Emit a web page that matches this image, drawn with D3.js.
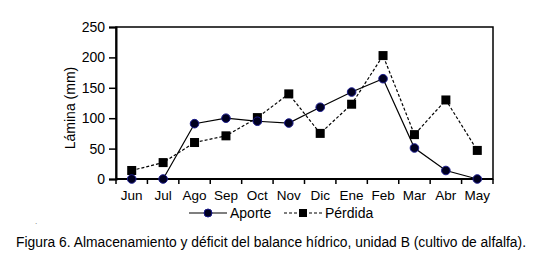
<!DOCTYPE html>
<html>
<head>
<meta charset="utf-8">
<script src="https://cdn.jsdelivr.net/npm/d3@7"></script>
<style>
  body { margin: 0; background: #fff; }
  svg { font-family: "Liberation Sans", Arial, sans-serif; }
</style>
</head>
<body>
<div id="wrapper"></div>
<script>
// months on the x axis
const months = ["Jun", "Jul", "Ago", "Sep", "Oct", "Nov", "Dic", "Ene", "Feb", "Mar", "Abr", "May"]
// series values (mm)
const aporte = [0, 0, 91, 100, 95, 92, 118, 143, 165, 51, 14, 0]
const perdida = [14, 27, 60, 71, 101, 140, 75, 123, 203, 73, 130, 47]
const yTicks = [0, 50, 100, 150, 200, 250]

const dimensions = {
  width: 551,
  height: 263,
  margin: { top: 27, right: 58, bottom: 84, left: 116 }
}
dimensions.boundedWidth = dimensions.width - dimensions.margin.left - dimensions.margin.right
dimensions.boundedHeight = dimensions.height - dimensions.margin.top - dimensions.margin.bottom

const wrapper = d3.select("#wrapper")
  .append("svg")
    .attr("width", dimensions.width)
    .attr("height", dimensions.height)

const bounds = wrapper.append("g")
  .attr("transform", `translate(${dimensions.margin.left},${dimensions.margin.top})`)

const xScale = d3.scaleBand()
  .domain(months)
  .range([0, dimensions.boundedWidth])

const yScale = d3.scaleLinear()
  .domain([0, 250])
  .range([dimensions.boundedHeight, 0])

const xMid = d => xScale(d) + xScale.bandwidth() / 2

// frame
bounds.append("rect")
  .attr("width", dimensions.boundedWidth)
  .attr("height", dimensions.boundedHeight)
  .attr("fill", "none")
  .attr("stroke", "#000")
  .attr("stroke-width", 1.5)

// y axis
const yAxis = bounds.append("g")
  .call(d3.axisLeft(yScale).tickValues(yTicks).tickSize(7).tickPadding(4))
yAxis.select(".domain").attr("stroke-width", 2)
yAxis.selectAll("line").attr("stroke-width", 1.5)
yAxis.selectAll("text").style("font-size", "14px").attr("fill", "#000")

// x axis: ticks on band edges
const xAxis = bounds.append("g")
  .attr("transform", `translate(0,${dimensions.boundedHeight})`)
xAxis.append("line")
  .attr("x1", 0).attr("x2", dimensions.boundedWidth)
  .attr("stroke", "#000").attr("stroke-width", 2)
xAxis.selectAll(".tk")
  .data(months.concat(["end"]))
  .join("line")
    .attr("class", "tk")
    .attr("x1", (d, i) => i < months.length ? xScale(d) : dimensions.boundedWidth)
    .attr("x2", (d, i) => i < months.length ? xScale(d) : dimensions.boundedWidth)
    .attr("y1", 0).attr("y2", 5)
    .attr("stroke", "#000").attr("stroke-width", 1.5)
xAxis.selectAll(".lbl")
  .data(months)
  .join("text")
    .attr("class", "lbl")
    .attr("x", xMid)
    .attr("y", 21)
    .attr("text-anchor", "middle")
    .style("font-size", "13.5px")
    .text(d => d)

// y label
bounds.append("text")
  .attr("transform", `translate(-41,${dimensions.boundedHeight / 2 + 5}) rotate(-90)`)
  .attr("text-anchor", "middle")
  .style("font-size", "14px")
  .text("Lámina (mm)")

const lineGen = d3.line()
  .x((d, i) => xMid(months[i]))
  .y(d => yScale(d))

// Pérdida (dashed, squares)
bounds.append("path")
  .datum(perdida)
  .attr("d", lineGen)
  .attr("fill", "none")
  .attr("stroke", "#000")
  .attr("stroke-width", 1.2)
  .attr("stroke-dasharray", "3 2")

// Aporte (solid, circles)
bounds.append("path")
  .datum(aporte)
  .attr("d", lineGen)
  .attr("fill", "none")
  .attr("stroke", "#000")
  .attr("stroke-width", 1.2)

const sq = 9
bounds.selectAll(".sq")
  .data(perdida)
  .join("rect")
    .attr("class", "sq")
    .attr("x", (d, i) => xMid(months[i]) - sq / 2)
    .attr("y", d => yScale(d) - sq / 2)
    .attr("width", sq)
    .attr("height", sq)
    .attr("fill", "#000")

bounds.selectAll(".dot")
  .data(aporte)
  .join("circle")
    .attr("class", "dot")
    .attr("cx", (d, i) => xMid(months[i]))
    .attr("cy", d => yScale(d))
    .attr("r", 4.3)
    .attr("fill", "#000020")
    .attr("stroke", "#1a1a8c")
    .attr("stroke-width", 1)

// legend
const legend = wrapper.append("g").attr("transform", "translate(0,213)")
legend.append("line")
  .attr("x1", 189).attr("x2", 227)
  .attr("stroke", "#000").attr("stroke-width", 1.2)
legend.append("circle")
  .attr("cx", 208).attr("r", 4)
  .attr("fill", "#000020").attr("stroke", "#1a1a8c")
legend.append("text")
  .attr("x", 230).attr("y", 5)
  .style("font-size", "14px")
  .text("Aporte")
legend.append("line")
  .attr("x1", 284).attr("x2", 323)
  .attr("stroke", "#000").attr("stroke-width", 1.2)
  .attr("stroke-dasharray", "3 2")
legend.append("rect")
  .attr("x", 299).attr("y", -4)
  .attr("width", 8).attr("height", 8)
  .attr("fill", "#000")
legend.append("text")
  .attr("x", 325).attr("y", 5)
  .style("font-size", "14px")
  .text("Pérdida")

// stray dot
wrapper.append("text")
  .attr("x", 35).attr("y", 224)
  .style("font-size", "8px")
  .attr("fill", "#666")
  .text(".")

// caption
wrapper.append("text")
  .attr("x", 16).attr("y", 247)
  .style("font-size", "14px")
  .attr("textLength", 510)
  .attr("lengthAdjust", "spacingAndGlyphs")
  .text("Figura 6. Almacenamiento y déficit del balance hídrico, unidad B (cultivo de alfalfa).")
</script>
</body>
</html>
